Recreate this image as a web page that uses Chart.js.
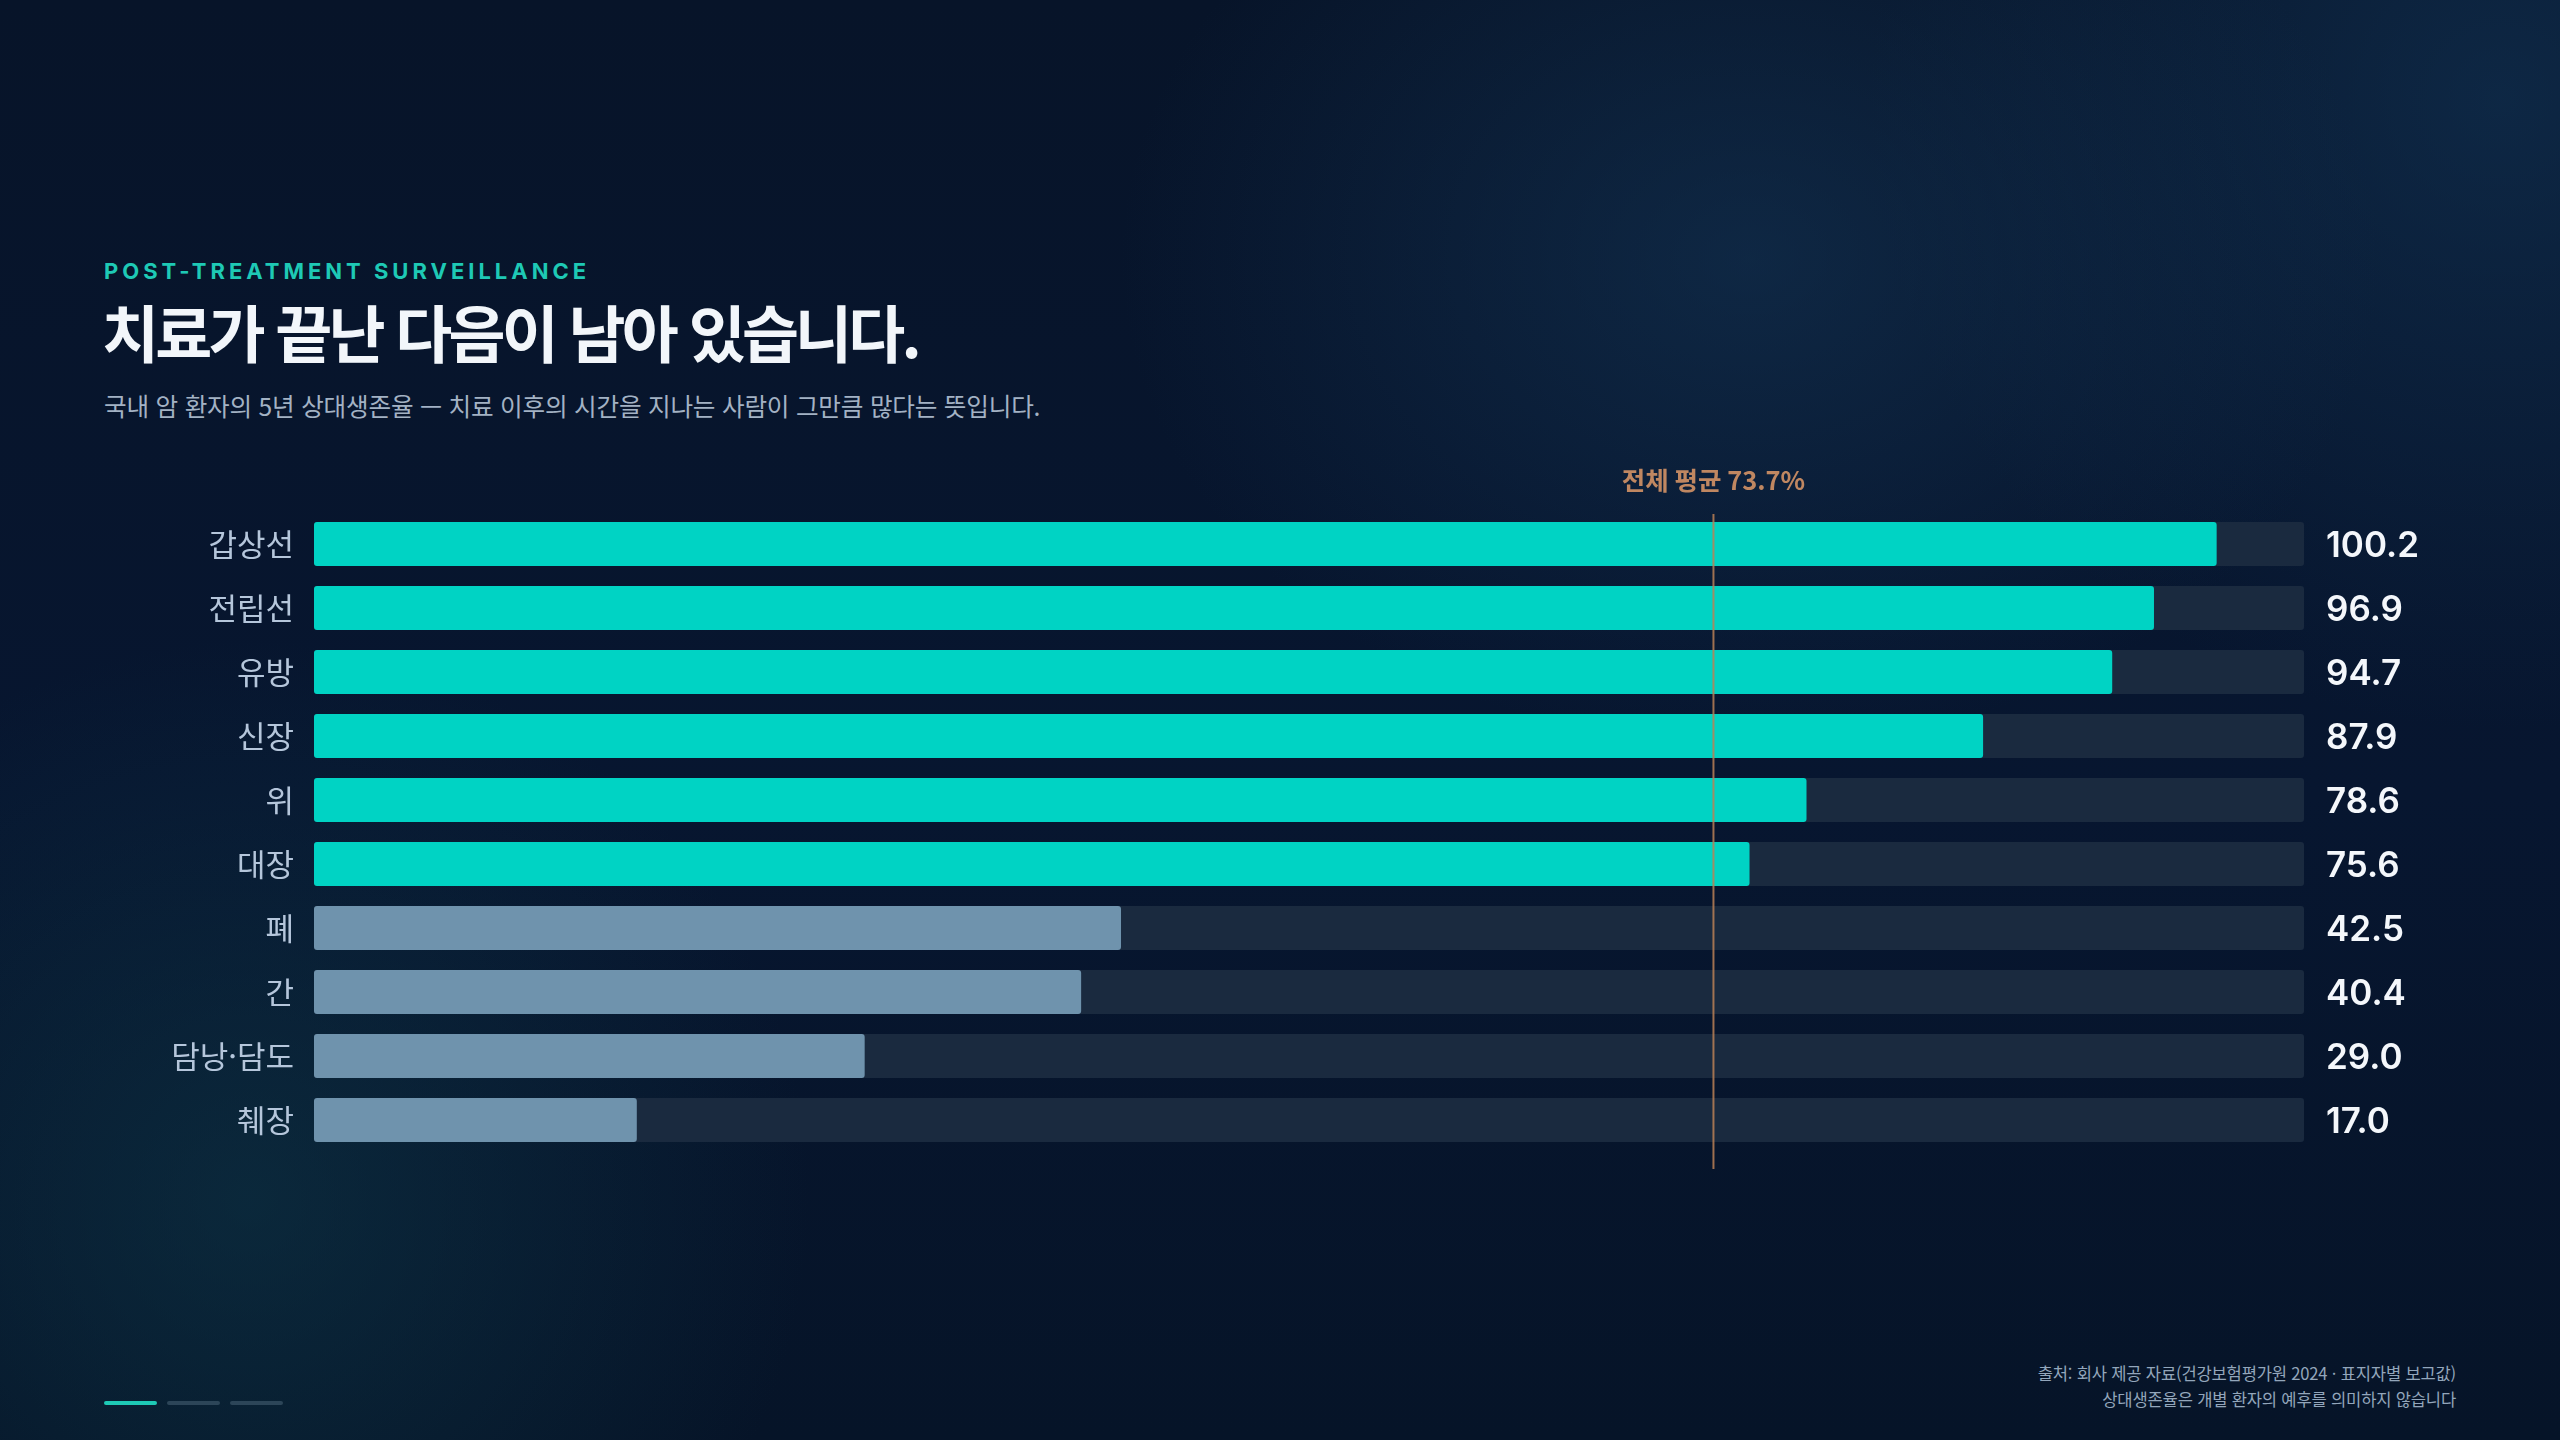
<!DOCTYPE html>
<html lang="ko">
<head>
<meta charset="utf-8">
<script src="https://cdn.jsdelivr.net/npm/chart.js@4.4.1/dist/chart.umd.min.js"></script>
<style>
  html,body{margin:0;padding:0;}
  body{width:2560px;height:1440px;overflow:hidden;position:relative;
    background:
      radial-gradient(ellipse 900px 700px at 1750px 260px, rgba(22,58,92,0.5), rgba(22,58,92,0) 70%),
      radial-gradient(ellipse 900px 900px at 2500px 100px, rgba(18,52,86,0.6), rgba(18,52,86,0) 70%),
      radial-gradient(ellipse 800px 800px at 250px 1200px, rgba(14,56,72,0.55), rgba(14,56,72,0) 70%),
      linear-gradient(180deg,#071429 0%,#071630 55%,#061428 100%);
    font-family:"Noto Sans CJK KR","Noto Sans",sans-serif;}
  .eyebrow{position:absolute;left:104px;top:258px;font-family:Inter,"Noto Sans",sans-serif;font-weight:700;font-size:22px;letter-spacing:4px;color:#1ec9b5;}
  .title{position:absolute;left:102px;top:294px;font-family:"Noto Sans CJK KR",sans-serif;font-weight:700;font-size:62px;letter-spacing:-3.8px;color:#f2f6fa;line-height:1.2;}
  .sub{position:absolute;left:104px;top:387px;font-family:"Noto Sans CJK KR",sans-serif;font-weight:400;font-size:24.6px;color:#a3b2c4;letter-spacing:-0.2px;}
  #wrap{position:absolute;left:0;top:440px;width:2560px;height:760px;}
  .foot{position:absolute;right:104px;top:1360px;text-align:right;font-family:"Noto Sans CJK KR",sans-serif;font-size:16.6px;line-height:26px;color:#93a6bb;letter-spacing:-0.2px;}
  .dots{position:absolute;left:104px;top:1401px;display:flex;gap:10px;}
  .dots span{display:block;width:53px;height:4px;border-radius:2px;background:#2c4558;}
  .dots span.on{background:#1ec9b5;}
</style>
</head>
<body>
<div class="eyebrow">POST-TREATMENT SURVEILLANCE</div>
<div class="title">치료가 끝난 다음이 남아 있습니다.</div>
<div class="sub">국내 암 환자의 5년 상대생존율 — 치료 이후의 시간을 지나는 사람이 그만큼 많다는 뜻입니다.</div>
<div id="wrap"><canvas id="c"></canvas></div>
<div class="foot">출처: 회사 제공 자료(건강보험평가원 2024 · 표지자별 보고값)<br>상대생존율은 개별 환자의 예후를 의미하지 않습니다</div>
<div class="dots"><span class="on"></span><span></span><span></span></div>
<script>
const categories = ["갑상선","전립선","유방","신장","위","대장","폐","간","담낭·담도","췌장"];
const survival = [100.2, 96.9, 94.7, 87.9, 78.6, 75.6, 42.5, 40.4, 29.0, 17.0];
const averageValue = 73.7;
const averageLabel = "전체 평균 73.7%";
const axisMax = 104.8;
const trackValues = categories.map(() => axisMax);

const TEAL = "#00d3c4", GREY = "#6f93ad", TRACK = "#1a2a3f";
const barColors = survival.map(v => v >= averageValue ? TEAL : GREY);

const overlay = {
  id: "overlay",
  afterDatasetsDraw(chart) {
    const {ctx, chartArea, scales} = chart;
    const x = scales.x.getPixelForValue(averageValue);
    ctx.save();
    ctx.strokeStyle = "rgba(186,128,86,0.85)";
    ctx.lineWidth = 2;
    ctx.beginPath();
    ctx.moveTo(x, chartArea.top + 2);
    ctx.lineTo(x, chartArea.bottom + 17);
    ctx.stroke();
    ctx.fillStyle = "#c08761";
    ctx.font = "600 25.5px 'Noto Sans CJK KR', Inter, sans-serif";
    ctx.textAlign = "center";
    ctx.textBaseline = "middle";
    ctx.fillText(averageLabel, x, chartArea.top - 32);
    ctx.fillStyle = "#f4f7fb";
    ctx.font = "600 35px Inter, 'Noto Sans', sans-serif";
    ctx.textAlign = "left";
    survival.forEach((v, i) => {
      const y = scales.y.getPixelForValue(i);
      ctx.fillText(v.toFixed(1), chartArea.right + 22, y + 2);
    });
    ctx.restore();
  }
};

new Chart(document.getElementById("c"), {
  type: "bar",
  data: {
    labels: categories,
    datasets: [
      {data: survival, backgroundColor: barColors, borderRadius: 3, borderSkipped: false, grouped: false, order: 1, barPercentage: 0.69, categoryPercentage: 1},
      {data: trackValues, backgroundColor: TRACK, borderRadius: 3, borderSkipped: false, grouped: false, order: 2, barPercentage: 0.69, categoryPercentage: 1}
    ]
  },
  options: {
    indexAxis: "y",
    responsive: true,
    maintainAspectRatio: false,
    animation: false,
    layout: {padding: {left: 0, right: 256, top: 72, bottom: 48}},
    plugins: {legend: {display: false}, tooltip: {enabled: false}},
    scales: {
      x: {display: false, min: 0, max: axisMax},
      y: {
        grid: {display: false, drawTicks: false},
        border: {display: false},
        afterFit(scale) { scale.width = 314; },
        ticks: {color: "#b5c6db", padding: 20, font: {family: "'Noto Sans CJK KR', sans-serif", size: 31, weight: 400}}
      }
    }
  },
  plugins: [overlay]
});
</script>
</body>
</html>
